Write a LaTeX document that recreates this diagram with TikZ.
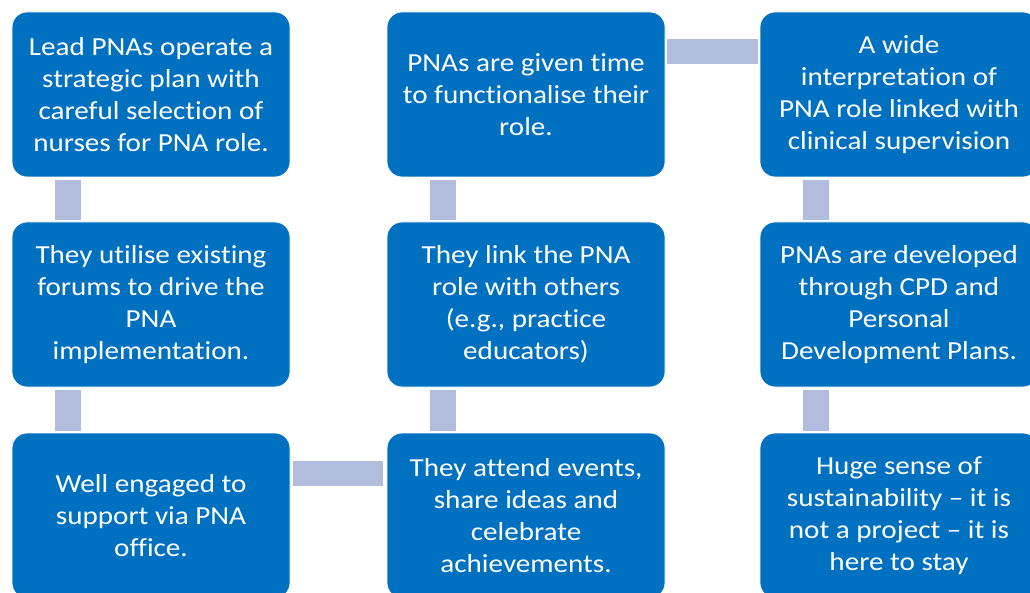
\documentclass[tikz,border=0pt]{standalone}
\usepackage{fontspec}
\setmainfont{Carlito}[FakeStretch=1.12, Ligatures={NoCommon}]
\definecolor{boxblue}{RGB}{0,112,192}
\definecolor{connlav}{RGB}{178,189,222}
\begin{document}
\begin{tikzpicture}[x=1pt,y=-1pt,
  card/.style={fill=boxblue, draw=white, line width=0.8pt, rounded corners=15pt,
    minimum width=278pt, minimum height=165pt, inner sep=0pt, align=center,
    text=white, font=\fontsize{26}{32}\selectfont},
  conn/.style={draw=connlav, line width=26pt}]
\useasboundingbox (0,0) rectangle (1030,593);
\clip (0,0) rectangle (1030,593);
\node[card] (a1) at (151,94.5) {Lead PNAs operate a\\strategic plan with\\careful selection of\\nurses for PNA role.};
\node[card] (a2) at (151,304.5) {They utilise existing\\forums to drive the\\PNA\\implementation.};
\node[card] (a3) at (151,515.5) {Well engaged to\\support via PNA\\office.};
\node[card] (b1) at (526,94.5) {PNAs are given time\\to functionalise their\\role.};
\node[card] (b2) at (526,304.5) {They link the PNA\\role with others\\(e.g., practice\\educators)};
\node[card] (b3) at (526,515.5) {They attend events,\\share ideas and\\celebrate\\achievements.};
\node[card] (c1) at (899,94.5) {A wide\\interpretation of\\PNA role linked with\\clinical supervision};
\node[card] (c2) at (899,304.5) {PNAs are developed\\through CPD and\\Personal\\Development Plans.};
\node[card] (c3) at (899,515.5) {Huge sense of\\sustainability -- it is\\not a project -- it is\\here to stay};
\draw[conn, shorten <=3pt, shorten >=2pt] ([xshift=-83pt]a1.south) -- ([xshift=-83pt]a2.north);
\draw[conn, shorten <=3pt, shorten >=2pt] ([xshift=-83pt]a2.south) -- ([xshift=-83pt]a3.north);
\draw[conn, shorten <=3pt, shorten >=2pt] ([xshift=-83pt]b1.south) -- ([xshift=-83pt]b2.north);
\draw[conn, shorten <=3pt, shorten >=2pt] ([xshift=-83pt]b2.south) -- ([xshift=-83pt]b3.north);
\draw[conn, shorten <=3pt, shorten >=2pt] ([xshift=-83pt]c1.south) -- ([xshift=-83pt]c2.north);
\draw[conn, shorten <=3pt, shorten >=2pt] ([xshift=-83pt]c2.south) -- ([xshift=-83pt]c3.north);
\draw[conn, line width=25pt, shorten <=3pt, shorten >=4pt] ([yshift=42.5pt]a3.east) -- ([yshift=42.5pt]b3.west);
\draw[conn, line width=25pt, shorten <=2pt, shorten >=2pt] ([yshift=43pt]b1.east) -- ([yshift=43pt]c1.west);
\end{tikzpicture}
\end{document}
